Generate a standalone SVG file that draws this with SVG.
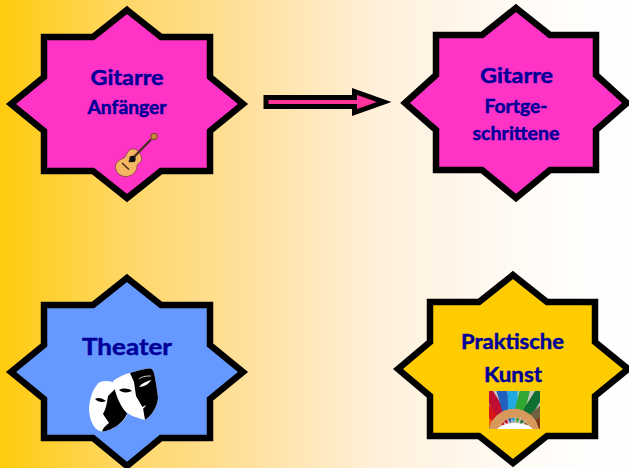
<svg xmlns="http://www.w3.org/2000/svg" width="629" height="468" viewBox="0 0 629 468">
<style>
.star{stroke:#000;stroke-width:6.500;stroke-miterlimit:10;stroke-linejoin:miter}
.pink{fill:#ff33c6}.blue{fill:#6699ff}.gold{fill:#ffcc00}
text{font-family:"Lato","Liberation Sans",sans-serif;font-weight:700;fill:#000099;stroke:#000099;stroke-width:0.450;text-anchor:middle}
.big{font-size:21px}.mid{font-size:18px}
</style>
<defs>
<linearGradient id="bg" x1="0" y1="0" x2="1" y2="0">
<stop offset="0" stop-color="#ffcb0c"/><stop offset="0.03" stop-color="#ffcd1a"/><stop offset="0.2" stop-color="#ffd767"/><stop offset="0.41" stop-color="#ffe1a2"/><stop offset="0.6" stop-color="#fff0da"/><stop offset="0.85" stop-color="#fffcf8"/><stop offset="1" stop-color="#ffffff"/>
</linearGradient>
<clipPath id="pc"><rect x="489" y="391" width="51" height="38"/></clipPath>
<filter id="soft" x="-5%" y="-5%" width="110%" height="110%"><feGaussianBlur stdDeviation="0.5"/></filter>
<g id="pencil">
<rect x="-5" y="-62" width="10" height="37" fill="currentColor"/>
<polygon points="-5,-25 5,-25 0,-11" fill="#d8985a"/>
<polygon points="-1.800,-16 1.800,-16 0,-11" fill="currentColor"/>
</g>
</defs>
<rect width="629" height="468" fill="url(#bg)"/>

<g id="connectors">
<polygon points="266,97.500 354.500,97.500 354.500,91.500 384,102 354.500,112.500 354.500,106.500 266,106.500" fill="#ff3399" stroke="#000" stroke-width="5" stroke-miterlimit="10"/>
</g>

<g id="node-gitarre-anfaenger">
<polygon class="star pink" points="127,10 161,37 210,37 210,77 243,104 210,131 210,171 161,171 127,198 93,171 44,171 44,131 11,104 44,77 44,37 93,37"/>
<text class="big" x="127" y="85" textLength="73" lengthAdjust="spacingAndGlyphs">Gitarre</text>
<text class="mid" x="127" y="114" textLength="79" lengthAdjust="spacingAndGlyphs">Anfänger</text>
<g id="guitar">
<path d="M132,149C137,148 142,154 141.500,160C141,163 137,163 137,166C137,172 131,177 125,176.500C119,176 115,171 115.500,166C116,161 122,159 124,158C127,156 127,150 132,149Z" fill="#f5b662" stroke="#7a4a30" stroke-width="0.800"/>
<line x1="129" y1="162" x2="151" y2="139.500" stroke="#4a2c20" stroke-width="2.400"/>
<line x1="122" y1="163" x2="129" y2="169.500" stroke="#4a2c20" stroke-width="1.600"/>
<circle cx="132.500" cy="159" r="3.200" fill="#111"/>
<circle cx="154" cy="136.500" r="3.200" fill="#c98a3c" stroke="#6a4020" stroke-width="1"/>
</g>
</g>

<g id="node-gitarre-fortgeschrittene">
<polygon class="star pink" points="516,8 550,35 596,35 596,75 627,103 596,130 596,170 550,170 516,198 482,170 436,170 436,130 405,103 436,75 436,35 482,35"/>
<text class="big" x="516.500" y="83" textLength="73" lengthAdjust="spacingAndGlyphs">Gitarre</text>
<text class="mid" x="516" y="113" textLength="63" lengthAdjust="spacingAndGlyphs">Fortge-</text>
<text class="mid" x="516" y="140" textLength="87" lengthAdjust="spacingAndGlyphs">schrittene</text>
</g>

<g id="node-theater">
<polygon class="star blue" points="127,278 161,305 210,305 210,345 243,372 210,399 210,438 161,438 127,466 93,438 44,438 44,399 11,372 44,345 44,305 93,305"/>
<text x="127" y="355" font-size="22" textLength="90" lengthAdjust="spacingAndGlyphs">Theater</text>
<g id="masks">
<path d="M100,382C106,380 112,381 116,384L127,415C123,423 112,431 102,431.500C96,431 90,424 89,410C89,398 94,386 100,382Z" fill="#fff"/>
<path d="M108,396L116,388L127,414C123,423 112,431 102,431.500C103,428 106,425 109,423L103,414C106,409 107,403 108,396Z" fill="#000"/>
<path d="M113,381C118,377 125,374 130,373C137,371 143,369 148,368.500C152,368 153,370 154,373C156,382 157,390 158,398C157,408 151,416 145,420C138,418 130,416 125,411C119,404 115,393 113,381Z" fill="#fff"/>
<path d="M130,373C137,371 143,369 148,368.500C152,368 153,370 154,373C156,382 157,390 158,398C157,408 151,416 145,420L143,408L136,396L134,382Z" fill="#000"/>
<path d="M119,390C123,388 128,388 132,391C128,393 122,393 119,390Z" fill="#000"/>
<path d="M139,387C142,383 147,381 151,380C149,384 144,387 139,387Z" fill="#fff"/>
<path d="M139,379C143,376 147,376 151,376" fill="none" stroke="#fff" stroke-width="0.800"/>
<path d="M132,407C136,409 140,409 146,405C144,410 138,412 132,407Z" fill="#fff"/>
<path d="M95,399C98,397 102,398 106,401C102,403 98,402 95,399Z" fill="#000"/>
</g>
</g>

<g id="node-praktische-kunst">
<polygon class="star gold" points="513,275 547,302 595,302 595,342 628,369 595,396 595,436 547,436 513,463 479,436 430,436 430,396 398,369 430,342 430,302 479,302"/>
<text class="big" x="512.500" y="349" textLength="103" lengthAdjust="spacingAndGlyphs">Praktische</text>
<text class="big" x="513" y="382" textLength="58" lengthAdjust="spacingAndGlyphs">Kunst</text>
<g id="pencils" clip-path="url(#pc)">
<rect x="489" y="391" width="51" height="38" fill="#c8c4b8"/>
<g filter="url(#soft)">
<use href="#pencil" transform="translate(514 434) rotate(-78)" color="#8a6a30"/>
<use href="#pencil" transform="translate(514 434) rotate(-64)" color="#f06010"/>
<use href="#pencil" transform="translate(514 434) rotate(-48)" color="#d81818"/>
<use href="#pencil" transform="translate(514 434) rotate(-32)" color="#c01030"/>
<use href="#pencil" transform="translate(514 434) rotate(-16)" color="#2060c0"/>
<use href="#pencil" transform="translate(514 434) rotate(-2)" color="#20a8e0"/>
<use href="#pencil" transform="translate(514 434) rotate(14)" color="#30a830"/>
<use href="#pencil" transform="translate(514 434) rotate(32)" color="#107030"/>
<use href="#pencil" transform="translate(514 434) rotate(50)" color="#706040"/>
<use href="#pencil" transform="translate(514 434) rotate(68)" color="#803810"/>
<ellipse cx="515" cy="432" rx="19" ry="9" fill="#fff"/>
</g>
</g>
</g>
</svg>
